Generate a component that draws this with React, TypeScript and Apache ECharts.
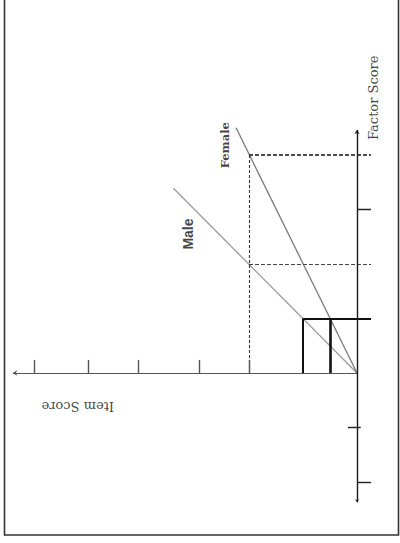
import React, { useEffect, useRef } from "react";
import * as echarts from "echarts";

// Item score (horizontal in the drawing, increasing to the left) and
// factor score (vertical, increasing upwards) share one origin.
const itemTicks = [2, 2.93, 4.05, 4.98, 5.98];
const factorTicksOutside = [3, -2];
const factorTicksCrossing = [-1];

const itemAxisEnd = 6.37;
const factorAxisRange = [-2.37, 4.46];

// Regression lines of item score on factor score for each group
const maleLine = [
  [0, 0],
  [3.4, 3.39],
];
const femaleLine = [
  [0, 0],
  [2.24, 4.5],
];

// Same item score (2) reached at different factor scores
const dashedGuides = [
  { group: "Female", factor: 4, item: 2 },
  { group: "Male", factor: 2, item: 2 },
];

// Same factor score (1) giving different item scores
const referenceFactor = 1;
const referenceItems = [
  { group: "Male", item: 1 },
  { group: "Female", item: 0.5 },
];

const labels = [
  { text: "Factor Score", item: -0.3, factor: 5.05 },
  { text: "Item Score", item: 5.17, factor: -0.62 },
  { text: "Female", item: 2.44, factor: 4.18 },
  { text: "Male", item: 3.13, factor: 2.55 },
];

export default function App() {
  const ref = useRef<HTMLDivElement>(null);

  useEffect(() => {
    if (!ref.current) return;
    const chart = echarts.init(ref.current, null, { renderer: "svg" });

    const overhang = 0.26; // guide lines run past the factor axis
    const tickLen = 0.24;

    const seg = (a: number[], b: number[], style: any) => ({
      coords: [a, b],
      lineStyle: style,
    });

    const axisStyle = { color: "#1a1a1a", width: 1.4, type: "solid", opacity: 1 };
    const tickStyle = { color: "#555", width: 1.4, type: "solid", opacity: 1 };

    const tickData = [
      ...itemTicks.map((v) => seg([v, 0], [v, tickLen], tickStyle)),
      ...factorTicksOutside.map((f) =>
        seg([0, f], [-overhang, f], { ...tickStyle, color: "#222" })
      ),
      ...factorTicksCrossing.map((f) =>
        seg([0.17, f], [-0.07, f], { ...tickStyle, color: "#222" })
      ),
    ];

    const guideData = [
      ...dashedGuides.map((g, i) =>
        seg([g.item, g.factor], [-overhang, g.factor], {
          color: i === 0 ? "#111" : "#444",
          width: i === 0 ? 1.5 : 1.1,
          type: [4, 2],
          opacity: 1,
        })
      ),
      seg([dashedGuides[0].item, dashedGuides[0].factor], [dashedGuides[0].item, 0], {
        color: "#333",
        width: 1.1,
        type: [3, 2],
        opacity: 1,
      }),
    ];

    const boxData = [
      seg([referenceItems[0].item, referenceFactor], [-overhang, referenceFactor], {
        color: "#111",
        width: 2.2,
        type: "solid",
        opacity: 1,
      }),
      ...referenceItems.map((r, i) =>
        seg([r.item, referenceFactor], [r.item, 0], {
          color: "#111",
          width: i === 0 ? 2 : 2.6,
          type: "solid",
          opacity: 1,
        })
      ),
    ];

    const modelData = [
      seg(maleLine[0], maleLine[1], { color: "#9a9a9a", width: 1.3, type: "solid", opacity: 1 }),
      seg(femaleLine[0], femaleLine[1], { color: "#7a7a7a", width: 1.3, type: "solid", opacity: 1 }),
    ];

    const labelFont: Record<string, any> = {
      "Factor Score": { fontFamily: "DejaVu Serif", fontSize: 13, rotate: 90, fontWeight: "normal" },
      "Item Score": { fontFamily: "DejaVu Serif", fontSize: 13, rotate: 180, fontWeight: "normal" },
      Female: { fontFamily: "DejaVu Serif", fontSize: 11.5, rotate: 90, fontWeight: "bold" },
      Male: { fontFamily: "Liberation Sans", fontSize: 14, rotate: 90, fontWeight: "bold" },
    };

    chart.setOption({
      animation: false,
      backgroundColor: "#fff",
      grid: { left: 6, right: 16, top: 18.75, bottom: 6.5 },
      xAxis: { type: "value", inverse: true, min: -0.5, max: 6.5, show: false },
      yAxis: { type: "value", min: -3, max: 6.5, show: false },
      graphic: [
        {
          type: "rect",
          shape: { x: 4.5, y: -2, width: 394, height: 537 },
          style: { fill: "none", stroke: "#333", lineWidth: 1.6 },
          z: 0,
        },
      ],
      series: [
        {
          type: "lines",
          coordinateSystem: "cartesian2d",
          symbol: ["none", "arrow"],
          symbolSize: [3, 4],
          data: [seg([0, 0], [itemAxisEnd, 0], { ...axisStyle, color: "#555", width: 1.2 })],
          z: 3,
        },
        {
          type: "lines",
          coordinateSystem: "cartesian2d",
          symbol: ["arrow", "arrow"],
          symbolSize: [3, 4],
          data: [seg([0, factorAxisRange[0]], [0, factorAxisRange[1]], axisStyle)],
          z: 3,
        },
        { type: "lines", coordinateSystem: "cartesian2d", symbol: "none", data: tickData, z: 3 },
        { type: "lines", coordinateSystem: "cartesian2d", symbol: "none", data: modelData, z: 2 },
        { type: "lines", coordinateSystem: "cartesian2d", symbol: "none", data: guideData, z: 2 },
        { type: "lines", coordinateSystem: "cartesian2d", symbol: "none", data: boxData, z: 4 },
        {
          type: "scatter",
          symbolSize: 0,
          silent: true,
          data: labels.map((l) => ({
            value: [l.item, l.factor],
            name: l.text,
            label: {
              show: true,
              position: "inside",
              formatter: l.text,
              color: "#111",
              align: "center",
              verticalAlign: "middle",
              ...labelFont[l.text],
            },
          })),
          z: 5,
        },
      ],
    });

    return () => chart.dispose();
  }, []);

  return (
    <div
      ref={ref}
      style={{ position: "fixed", left: 0, top: 0, width: 400, height: 543 }}
    />
  );
}
